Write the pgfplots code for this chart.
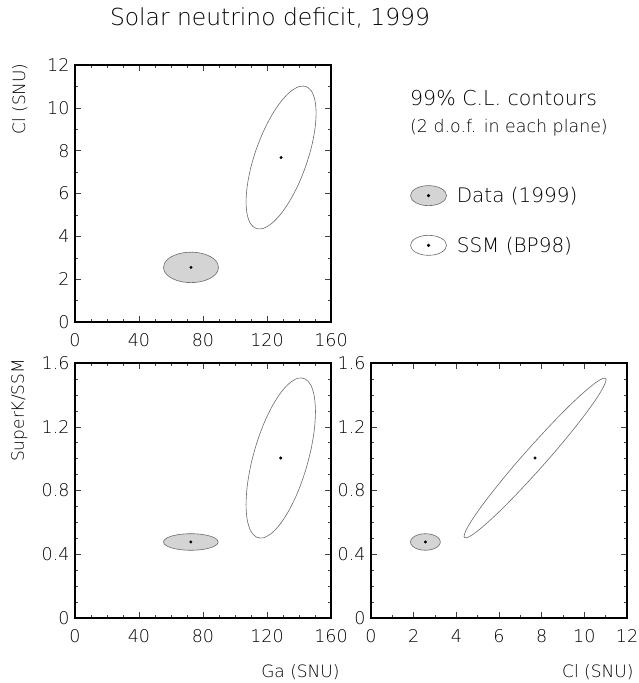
\documentclass[border=0pt]{standalone}
\usepackage{pgfplots}
\pgfplotsset{compat=1.18}
\usepackage{fontspec}
\setmainfont{DejaVu Sans ExtraLight}
\definecolor{datafill}{gray}{0.83}
\definecolor{edge}{gray}{0.42}
\pgfplotsset{
  panel/.style={
    scale only axis, width=256pt, height=255pt,
    anchor=south west,
    axis line style={line width=1.1pt},
    tick style={line width=0.5pt, black!75},
    major tick length=6pt, minor tick length=3pt,
    tick align=inside,
    tick label style={font=\fontsize{17.5}{20}\selectfont},
    xticklabel style={yshift=-8pt},
    yticklabel style={xshift=-2pt},
    /pgf/number format/assume math mode=true,
    label style={font=\fontsize{17}{20}\selectfont},
  },
  dataell/.style={draw=edge, fill=datafill, line width=0.6pt, smooth cycle, mark=none},
  ssmell/.style={draw=edge, fill=white, line width=0.6pt, smooth cycle, mark=none},
  cen/.style={only marks, mark=*, mark size=1.3pt, black},
}
\begin{document}
\begin{tikzpicture}[x=1pt,y=1pt]
\useasboundingbox (0pt,0pt) rectangle (638pt,-683pt);
\node[anchor=base, font=\fontsize{23.4}{28}\selectfont] at (270pt,-25pt) {Solar neutrino deficit, 1999};
\node[anchor=base west, font=\fontsize{20.5}{24}\selectfont, inner sep=0pt] at (410pt,-105pt) {99\% C.L. contours};
\node[anchor=base west, font=\fontsize{17.4}{21}\selectfont, inner sep=0pt] at (410pt,-132pt) {(2 d.o.f. in each plane)};

% Top-left: Cl vs Ga
\begin{axis}[panel, at={(75pt,-322pt)}, height=257pt,
  xmin=0, xmax=160, ymin=0, ymax=12,
  xtick={0,40,80,120,160}, minor x tick num=3,
  ytick={0,2,4,6,8,10,12}, minor y tick num=1,
  ylabel={Cl (SNU)},
  ylabel style={at={(rel axis cs:-0.172,1.02)}, anchor=south east},
  legend style={at={(1.297,0.395)}, anchor=west, draw=none, fill=none,
    font=\fontsize{20}{24}\selectfont, row sep=29pt,
    /tikz/every odd column/.append style={column sep=8pt}},
  legend cell align=left,
  legend image code/.code={\draw[#1] (18pt,0pt) ellipse (18pt and 10pt); \fill[black] (18pt,0pt) circle (1.3pt);},
]
\addplot[dataell] coordinates {(89.7,2.55) (89.11,2.734) (87.40,2.905) (84.66,3.052) (81.1,3.165) (76.95,3.236) (72.5,3.26) (68.05,3.236) (63.9,3.165) (60.34,3.052) (57.60,2.905) (55.89,2.734) (55.3,2.55) (55.89,2.366) (57.60,2.195) (60.34,2.048) (63.9,1.935) (68.05,1.864) (72.5,1.84) (76.95,1.864) (81.1,1.935) (84.66,2.048) (87.40,2.195) (89.11,2.366)};
\addlegendentry{Data (1999)}
\addplot[ssmell] coordinates {(150.7,9.751) (149.95,10.359) (147.77,10.784) (144.29,10.997) (139.75,10.985) (134.47,10.747) (128.8,10.301) (123.13,9.675) (117.85,8.914) (113.31,8.069) (109.83,7.197) (107.65,6.358) (106.9,5.609) (107.65,5.001) (109.83,4.576) (113.31,4.363) (117.85,4.375) (123.13,4.613) (128.8,5.059) (134.47,5.685) (139.75,6.446) (144.29,7.291) (147.77,8.163) (149.95,9.002)};
\addlegendentry{SSM (BP98)}
\addplot[cen, forget plot] coordinates {(72.5,2.55) (128.8,7.68)};
\end{axis}

% Bottom-left: SuperK/SSM vs Ga
\begin{axis}[panel, at={(75pt,-618pt)},
  xmin=0, xmax=160, ymin=0, ymax=1.6,
  xtick={0,40,80,120,160}, minor x tick num=3,
  ytick={0,0.4,0.8,1.2,1.6}, minor y tick num=3,
  yticklabel style={/pgf/number format/fixed, /pgf/number format/precision=1},
  ylabel={SuperK/SSM},
  ylabel style={at={(rel axis cs:-0.172,1.03)}, anchor=south east},
  xlabel={Ga (SNU)},
  xlabel style={at={(rel axis cs:1.047,-0.167)}, anchor=north east},
]
\addplot[dataell] coordinates {(89.5,0.477) (88.92,0.4905) (87.21,0.503) (84.49,0.5138) (80.95,0.522) (76.83,0.5272) (72.4,0.529) (67.97,0.5272) (63.85,0.522) (60.31,0.5138) (57.59,0.503) (55.88,0.4905) (55.3,0.477) (55.88,0.4635) (57.59,0.451) (60.31,0.4402) (63.85,0.432) (67.97,0.4268) (72.4,0.425) (76.83,0.4268) (80.95,0.432) (84.49,0.4402) (87.21,0.451) (88.92,0.4635)};
\addplot[ssmell] coordinates {(150.3,1.296) (149.56,1.392) (147.39,1.462) (143.94,1.500) (139.45,1.505) (134.22,1.475) (128.6,1.414) (122.98,1.324) (117.75,1.213) (113.26,1.087) (109.81,0.956) (107.64,0.828) (106.9,0.712) (107.64,0.616) (109.81,0.546) (113.26,0.508) (117.75,0.503) (122.98,0.533) (128.6,0.594) (134.22,0.684) (139.45,0.795) (143.94,0.921) (147.39,1.052) (149.56,1.180)};
\addplot[cen] coordinates {(72.4,0.477) (128.6,1.004)};
\end{axis}

% Bottom-right: SuperK/SSM vs Cl
\begin{axis}[panel, at={(371pt,-618pt)},
  xmin=0, xmax=12, ymin=0, ymax=1.6,
  xtick={0,2,4,6,8,10,12}, minor x tick num=1,
  ytick={0,0.4,0.8,1.2,1.6}, minor y tick num=3,
  yticklabel style={/pgf/number format/fixed, /pgf/number format/precision=1},
  xlabel={Cl (SNU)},
  xlabel style={at={(rel axis cs:1.039,-0.167)}, anchor=north east},
]
\addplot[dataell] coordinates {(3.25,0.477) (3.226,0.4905) (3.156,0.503) (3.045,0.5138) (2.9,0.522) (2.731,0.5272) (2.55,0.529) (2.369,0.5272) (2.2,0.522) (2.055,0.5138) (1.944,0.503) (1.874,0.4905) (1.85,0.477) (1.874,0.4635) (1.944,0.451) (2.055,0.4402) (2.2,0.432) (2.369,0.4268) (2.55,0.425) (2.731,0.4268) (2.9,0.432) (3.045,0.4402) (3.156,0.451) (3.226,0.4635)};
\addplot[ssmell] coordinates {(11.02,1.4955) (10.906,1.505) (10.574,1.481) (10.045,1.424) (9.355,1.339) (8.552,1.230) (7.69,1.106) (6.828,0.976) (6.025,0.847) (5.335,0.729) (4.806,0.630) (4.474,0.556) (4.36,0.5125) (4.474,0.503) (4.806,0.527) (5.335,0.584) (6.025,0.669) (6.828,0.778) (7.69,0.902) (8.552,1.032) (9.355,1.161) (10.045,1.279) (10.574,1.378) (10.906,1.452)};
\addplot[cen] coordinates {(2.55,0.477) (7.69,1.004)};
\end{axis}
\end{tikzpicture}
\end{document}
